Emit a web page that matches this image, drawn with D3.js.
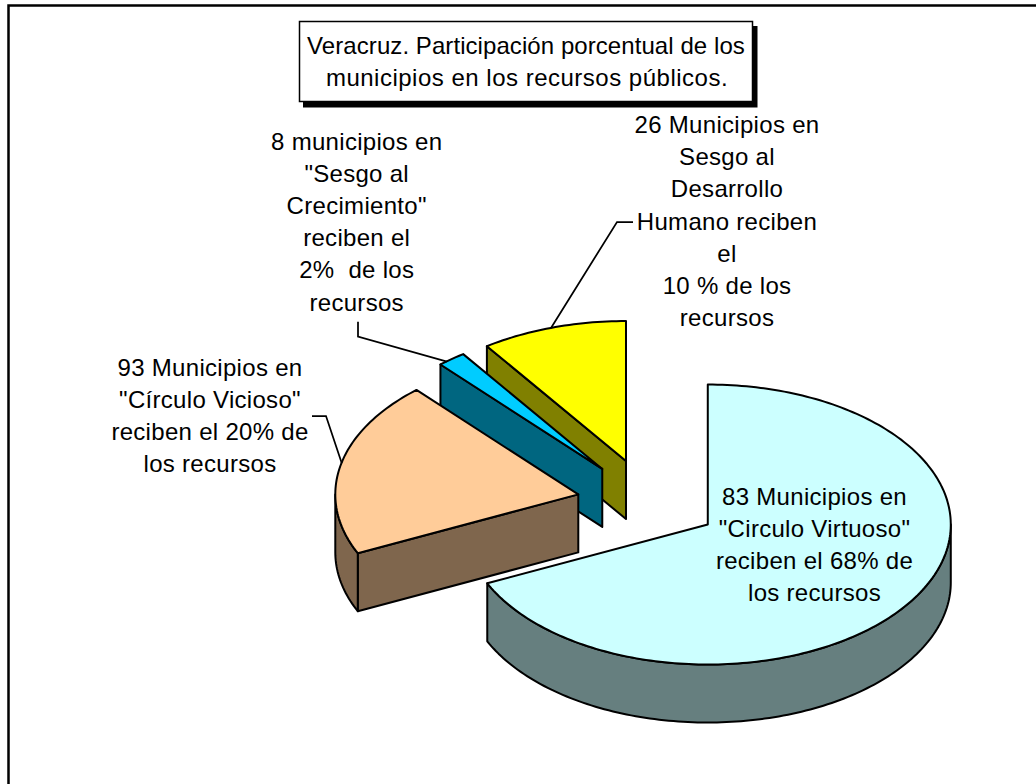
<!DOCTYPE html>
<html>
<head>
<meta charset="utf-8">
<script src="https://cdn.jsdelivr.net/npm/d3@7"></script>
<style>
  html, body { margin: 0; padding: 0; background: #fff; overflow: hidden; }
  svg { display: block; }
  text { font-family: "Liberation Sans", Arial, sans-serif; font-size: 24px; fill: #000; }
  .slice-label { letter-spacing: 0.3px; }
</style>
</head>
<body>
<svg id="chart"></svg>
<script>
// Shares of public resources per municipality group
const shares = [68.1, 20.3, 1.9, 9.7];
const topColors = ['#ccffff', '#ffcc99', '#00ccff', '#ffff00'];
const sideColors = ['#667f7f', '#7f664d', '#006680', '#808000'];
const sliceLabels = [
  ['83 Municipios en', '"Circulo Virtuoso"', 'reciben el 68% de', 'los recursos'],
  ['93 Municipios en', '"Círculo Vicioso"', 'reciben el 20% de', 'los recursos'],
  ['8 municipios en', '"Sesgo al', 'Crecimiento"', 'reciben el', '2%  de los', 'recursos'],
  ['26 Municipios en', 'Sesgo al', 'Desarrollo', 'Humano reciben', 'el', '10 % de los', 'recursos']
];
const titleLines = ['Veracruz. Participación porcentual de los', 'municipios en los recursos públicos.'];

const width = 1036, height = 784;
const centerX = 648.8, centerY = 502.8;
const rx = 243, ry = 140, depth = 58;
const explode = [70, 72, 75, 76];

// label block anchors: center x, first baseline, line step
const labelPos = [
  {x: 814.5, y: 504.5, step: 32},
  {x: 210, y: 376, step: 32},
  {x: 356.7, y: 149.5, step: 32.2},
  {x: 727, y: 133, step: 32.2}
];
// leader lines, from the slice out to the label
const leaders = [
  null,
  [[341.7, 463], [326, 416], [312, 416]],
  [[447, 361.7], [358, 336.7], [358, 321.7]],
  [[551, 328], [617, 222], [633, 222]]
];

const svg = d3.select('#chart').attr('width', width).attr('height', height);

svg.append('rect')
    .attr('width', width).attr('height', height)
    .attr('fill', '#fff');

// Chart frame, only top and left fall inside the picture
svg.append('path')
    .attr('d', `M8.5,${height + 5}V5.5H${width + 5}`)
    .attr('fill', 'none')
    .attr('stroke', '#000')
    .attr('stroke-width', 2.5);

const arcs = d3.pie().sort(null)(shares).map((d, i) => ({
  ...d,
  index: i,
  mid: (d.startAngle + d.endAngle) / 2
}));

const line = d3.line();

function project(slice, angle, r, drop) {
  const ox = centerX + explode[slice.index] * Math.sin(slice.mid);
  const oy = centerY - explode[slice.index] * Math.cos(slice.mid) * (ry / rx);
  return [ox + r * rx * Math.sin(angle), oy - r * ry * Math.cos(angle) + drop];
}

function rimPoints(slice, a0, a1, drop) {
  const n = Math.max(2, Math.ceil((a1 - a0) / 0.02));
  return d3.range(n + 1).map(i => project(slice, a0 + (a1 - a0) * i / n, 1, drop));
}

const quarter = Math.PI / 2;

// back slices first so the front ones cover them
const order = arcs.slice().sort((a, b) => d3.descending(a.index, b.index));

const sliceG = svg.selectAll('.slice')
    .data(order)
  .join('g')
    .attr('class', 'slice')
    .attr('stroke', '#000')
    .attr('stroke-width', 2)
    .attr('stroke-linejoin', 'round');

sliceG.each(function(d) {
  const g = d3.select(this);
  const fill = sideColors[d.index];

  // cut face on the start side shows when it looks toward the viewer
  if (d.startAngle > Math.PI) {
    const a = project(d, 0, 0, 0), b = project(d, d.startAngle, 1, 0);
    g.append('path')
        .attr('d', line([a, b, [b[0], b[1] + depth], [a[0], a[1] + depth]]) + 'Z')
        .attr('fill', fill);
  }

  // outer wall, only the front half of the ellipse
  const a0 = Math.max(d.startAngle, quarter), a1 = Math.min(d.endAngle, 3 * quarter);
  if (a1 > a0) {
    const upper = rimPoints(d, a0, a1, 0);
    const lower = rimPoints(d, a0, a1, depth).reverse();
    g.append('path')
        .attr('d', line(upper.concat(lower)) + 'Z')
        .attr('fill', fill);
  }

  // top face
  const top = [project(d, 0, 0, 0)].concat(rimPoints(d, d.startAngle, d.endAngle, 0));
  g.append('path')
      .attr('d', line(top) + 'Z')
      .attr('fill', topColors[d.index]);
});

// Leader lines
svg.selectAll('.leader')
    .data(leaders.filter(d => d))
  .join('path')
    .attr('class', 'leader')
    .attr('d', d => line(d))
    .attr('fill', 'none')
    .attr('stroke', '#000')
    .attr('stroke-width', 1.75);

// Slice labels
svg.selectAll('.slice-label')
    .data(sliceLabels)
  .join('text')
    .attr('class', 'slice-label')
    .attr('text-anchor', 'middle')
    .attr('xml:space', 'preserve')
    .style('white-space', 'pre')
    .each(function(lines, i) {
      d3.select(this).selectAll('tspan')
          .data(lines)
        .join('tspan')
          .attr('x', labelPos[i].x)
          .attr('y', (d, j) => labelPos[i].y + j * labelPos[i].step)
          .text(d => d);
    });

// Title box with its drop shadow
svg.append('rect')
    .attr('x', 303).attr('y', 26).attr('width', 454.5).attr('height', 81.5)
    .attr('fill', '#000');
svg.append('rect')
    .attr('x', 299.5).attr('y', 21.5).attr('width', 453).attr('height', 80)
    .attr('fill', '#fff')
    .attr('stroke', '#000')
    .attr('stroke-width', 1.5);

svg.append('text')
    .attr('class', 'title')
    .attr('text-anchor', 'middle')
  .selectAll('tspan')
    .data(titleLines)
  .join('tspan')
    .attr('x', (d, i) => i ? 527 : 526)
    .attr('y', (d, i) => 54 + i * 32)
    .style('letter-spacing', (d, i) => i ? '0.5px' : '0.07px')
    .text(d => d);
</script>
</body>
</html>
